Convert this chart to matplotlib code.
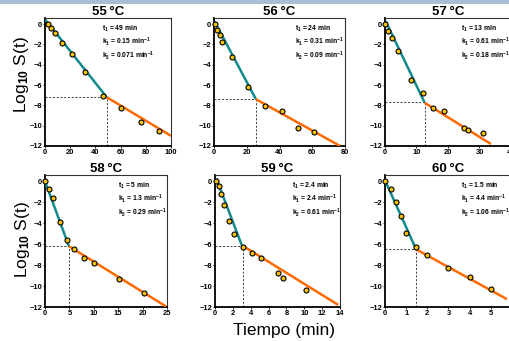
import matplotlib
matplotlib.use("Agg")
import matplotlib.pyplot as plt
from matplotlib.patches import Rectangle

plt.rcParams['font.family'] = ['Liberation Sans', 'DejaVu Sans']
plt.rcParams['mathtext.fontset'] = 'custom'
plt.rcParams['mathtext.rm'] = 'Liberation Sans:bold'
plt.rcParams['mathtext.it'] = 'Liberation Sans:bold'
plt.rcParams['mathtext.bf'] = 'Liberation Sans:bold'

# ---------------- data ----------------
titles = ["55\u2009\u00b0C", "56\u2009\u00b0C", "57\u2009\u00b0C", "58\u2009\u00b0C", "59\u2009\u00b0C", "60\u2009\u00b0C"]
t1_labels = ["49", "24", "13", "5", "2.4", "1.5"]
k1_labels = ["0.15", "0.31", "0.61", "1.3", "2.4", "4.4"]
k2_labels = ["0.071", "0.09", "0.18", "0.29", "0.61", "1.06"]

xmax = [100, 80, 40, 25, 14, 6]
xticks = [[0, 20, 40, 60, 80, 100], [0, 20, 40, 60, 80], [0, 10, 20, 30, 40],
          [0, 5, 10, 15, 20, 25], [0, 2, 4, 6, 8, 10, 12, 14], [0, 1, 2, 3, 4, 5, 6]]
yticks = [0, -2, -4, -6, -8, -10, -12]

t55 = [2, 4.5, 8, 13.8, 21.8, 31.6, 46.4, 60.7, 76, 90.5]
s55 = [0, -0.4, -0.9, -1.9, -2.95, -4.75, -7.1, -8.3, -9.67, -10.5]
t56 = [0.4, 2.1, 3.5, 5.0, 11, 20.6, 31.3, 41.5, 51, 61.3]
s56 = [0, -0.6, -1.1, -1.8, -3.25, -6.2, -8.1, -8.6, -10.2, -10.6]
t57 = [0, 0.9, 2.2, 4.1, 8.1, 12.2, 15.2, 18.7, 25, 26.2, 31]
s57 = [0.05, -0.65, -1.35, -2.6, -5.5, -6.75, -8.3, -8.6, -10.25, -10.4, -10.7]
t58 = [0, 0.9, 1.6, 3, 4.5, 6, 8, 10.1, 15.1, 20.2]
s58 = [0, -0.72, -1.64, -3.9, -5.65, -6.5, -7.3, -7.8, -9.3, -10.7]
t59 = [0.07, 0.45, 0.65, 1.0, 1.6, 2.1, 3.1, 4.1, 5.1, 7.1, 7.6, 10.15]
s59 = [0, -0.45, -1.25, -2.25, -3.75, -5.0, -6.3, -6.8, -7.3, -8.75, -9.25, -10.35]
t60 = [0, 0.26, 0.53, 0.74, 0.98, 1.48, 2.0, 3.0, 4.0, 5.0]
s60 = [0, -0.73, -2.0, -3.3, -4.9, -6.27, -7.0, -8.25, -9.1, -10.25]

times = [t55, t56, t57, t58, t59, t60]
survs = [s55, s56, s57, s58, s59, s60]

# fit segments (start, break, end)
fit_x = [[0.5, 49, 100], [0.4, 25.6, 77], [0.2, 12.6, 33.6],
         [0, 4.9, 24.8], [0.15, 3.0, 13.8], [0, 1.47, 5.76]]
fit_y = [[0.4, -7.2, -11.0], [0.25, -7.4, -12.0], [0.3, -7.75, -11.8],
         [0, -6.2, -11.95], [0.25, -6.1, -11.8], [0.1, -6.5, -11.25]]
# dashed guide (break time, break level)
guide_x = [49, 25.6, 12.6, 4.9, 3.1, 1.47]
guide_y = [-7.2, -7.4, -7.7, -6.2, -6.2, -6.5]

text_x = [0.45, 0.62, 0.6, 0.6, 0.62, 0.6]

# ---------------- layout ----------------
W, H = 510, 341
fig = plt.figure(figsize=(W / 100, H / 100), dpi=100)

boxes = [(45, 18, 171, 146), (214, 18, 345, 146), (385, 18, 511, 146),
         (45, 175, 167, 307), (215, 175, 340, 307), (385, 175, 512, 307)]

# top blue frame bar
fig.patches.append(Rectangle((0, 1 - 4 / H), 1, 4 / H, transform=fig.transFigure,
                             facecolor='#a9bdd6', edgecolor='none'))

teal = '#138a8c'
orange = '#ff6a00'

for i, (x0, y0, x1, y1) in enumerate(boxes):
    ax = fig.add_axes([x0 / W, 1 - y1 / H, (x1 - x0) / W, (y1 - y0) / H])
    ax.set_xlim(0, xmax[i])
    ax.set_ylim(-12, 0.6)
    ax.set_xticks(xticks[i])
    ax.set_yticks(yticks)
    ax.tick_params(axis='both', length=1.5, width=0.6, pad=0.5, labelsize=5.4)
    for lab in ax.get_xticklabels() + ax.get_yticklabels():
        lab.set_fontweight('bold')
    for s in ['left', 'bottom']:
        ax.spines[s].set_linewidth(1.3)
    for s in ['top', 'right']:
        ax.spines[s].set_linewidth(0.8)
        ax.spines[s].set_color('#333333')

    gx, gy = guide_x[i], guide_y[i]
    ax.plot([0, gx], [gy, gy], ls=(0, (2.5, 2)), color='#222222', lw=0.6)
    ax.plot([gx, gx], [-12, gy], ls=(0, (2.5, 2)), color='#222222', lw=0.6)

    fx, fy = fit_x[i], fit_y[i]
    ax.plot(fx[:2], fy[:2], color=teal, lw=1.8, solid_capstyle='butt', zorder=3)
    ax.plot(fx[1:], fy[1:], color=orange, lw=1.8, solid_capstyle='butt', zorder=3)

    ax.plot(times[i], survs[i], 'o', ms=3.6, mfc='#f5c200', mec='black', mew=0.8,
            zorder=4, clip_on=False)

    ax.text(text_x[i], 0.955,
            "$\\mathregular{t_1}$ = " + t1_labels[i] + " min\n"
            "$\\mathregular{k_1}$ = " + k1_labels[i] + " min$\\mathregular{^{-1}}$\n"
            "$\\mathregular{k_2}$ = " + k2_labels[i] + " min$\\mathregular{^{-1}}$",
            transform=ax.transAxes, ha='left', va='top', fontsize=4.9,
            fontweight='bold', linespacing=1.15)

    ax.set_title(titles[i], fontsize=9.5, fontweight='bold', pad=1.5)

fig.text(22 / W, 1 - 75 / H, "Log$_{10}$ S(t)", rotation=90, ha='center', va='center', fontsize=12.5)
fig.text(23 / W, 1 - 240 / H, "Log$_{10}$ S(t)", rotation=90, ha='center', va='center', fontsize=12.5)
fig.text(284 / W, 1 - 330 / H, "Tiempo (min)", ha='center', va='center', fontsize=12.5)

fig.savefig("out.png", dpi=100)
